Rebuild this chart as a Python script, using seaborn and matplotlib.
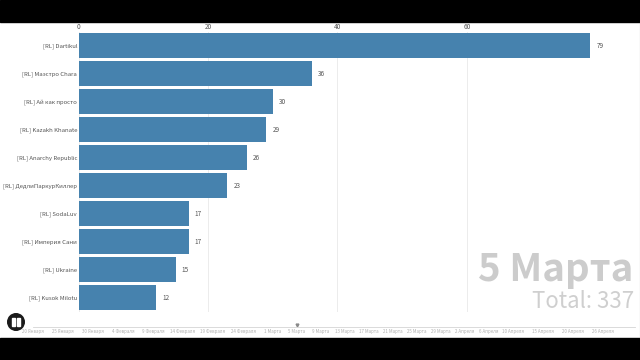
import seaborn as sns
import matplotlib.pyplot as plt
from matplotlib.patches import Circle, Rectangle

teams = ["[RL] Dartikul", "[RL] Маэстро Chara", "[RL] Ай как просто", "[RL] Kazakh Khanate",
         "[RL] Anarchy Republic", "[RL] ДедлиПаркурКиллер", "[RL] SodaLuv", "[RL] Империя Сани",
         "[RL] Ukraine", "[RL] Kusok Milotu"]
scores = [79, 36, 30, 29, 26, 23, 17, 17, 15, 12]
axis_ticks = [0, 20, 40, 60]
timeline_days = [0, 5, 10, 15, 20, 25, 30, 35, 40, 44, 48, 52, 56, 60, 64, 68, 72, 76, 80, 85, 90, 95]
timeline_labels = ["20 Января", "25 Января", "30 Января", "4 Февраля", "9 Февраля", "14 Февраля",
                   "19 Февраля", "24 Февраля", "1 Марта", "5 Марта", "9 Марта", "13 Марта",
                   "17 Марта", "21 Марта", "25 Марта", "29 Марта", "2 Апреля", "6 Апреля",
                   "10 Апреля", "15 Апреля", "20 Апреля", "26 Апреля"]
current_day = 44
current_date = "5 Марта"
total_text = "Total: 337"

W, H = 640, 360


def px_box(x0, y_top, x1, y_bottom):
    """Pixel box (y from the top) to figure fractions"""
    return [x0 / W, 1 - y_bottom / H, (x1 - x0) / W, (y_bottom - y_top) / H]


def main():
    sns.set_theme(style="white")
    plt.rcParams["font.family"] = ["Noto Sans CJK JP", "DejaVu Sans"]
    fig = plt.figure(figsize=(6.4, 3.6), dpi=100, facecolor="white")

    ax = fig.add_axes(px_box(78.5, 31.5, 640, 311.5))
    sns.barplot(x=scores, y=teams, color="#4682ae", saturation=1, width=0.89, linewidth=0,
                ax=ax, zorder=2)
    ax.set_xlim(0, 561.5 / 6.475)
    ax.set_ylim(9.5, -0.5)
    ax.xaxis.tick_top()
    ax.set_xticks(axis_ticks)
    ax.tick_params(axis="x", labelsize=4.6, labelcolor="#555555", length=0, pad=0.5)
    ax.tick_params(axis="y", labelsize=4.3, labelcolor="#555555", length=0, pad=1)
    ax.grid(axis="x", color="#ececec", linewidth=0.7, zorder=0)
    ax.set_axisbelow(True)
    sns.despine(ax=ax, left=True, bottom=True, top=True, right=True)
    ax.bar_label(ax.containers[0], padding=4.5, fontsize=4.6, color="#555555")

    # timeline under the chart
    tl = fig.add_axes(px_box(33, 316, 635, 326.5))
    tl.set_xlim(0, 602 / 6)
    tl.set_ylim(0, 1)
    tl.patch.set_alpha(0)
    tl.set_yticks([])
    tl.set_xticks(timeline_days, timeline_labels)
    tl.tick_params(axis="x", labelsize=3.2, labelcolor="#b0b0b0", color="#dddddd",
                   length=1.5, width=0.5, pad=1.8, direction="in")
    sns.despine(ax=tl, left=True, top=True, right=True)
    tl.spines["bottom"].set_color("#d5d5d5")
    tl.spines["bottom"].set_linewidth(0.6)
    tl.plot([current_day], [0.12], marker="v", markersize=2, color="#888888", clip_on=False)

    fig.text(633 / W, 1 - 281 / H, current_date, ha="right", va="baseline", fontsize=27.7,
             fontweight="bold", color="#cccccc")
    fig.text(634 / W, 1 - 308 / H, total_text, ha="right", va="baseline", fontsize=16,
             color="#cfcfcf")

    # pause button
    over = fig.add_axes([0, 0, 1, 1], zorder=5)
    over.set_xlim(0, W)
    over.set_ylim(H, 0)
    over.axis("off")
    over.patch.set_alpha(0)
    over.add_patch(Circle((16, 322), 8.3, color="#1a1a1a"))
    over.add_patch(Rectangle((12.3, 318), 3, 8, color="white"))
    over.add_patch(Rectangle((16.8, 318), 3, 8, color="white"))

    # black video bands
    over.add_patch(Rectangle((0, 0), W, 22, color="black"))
    over.add_patch(Rectangle((0, 337.5), W, 22.5, color="black"))
    over.plot([639.5, 639.5], [22, 337.5], color="#999999", linewidth=0.8)

    fig.savefig("out.png", dpi=100)


if (__name__ == "__main__"):
    main()
